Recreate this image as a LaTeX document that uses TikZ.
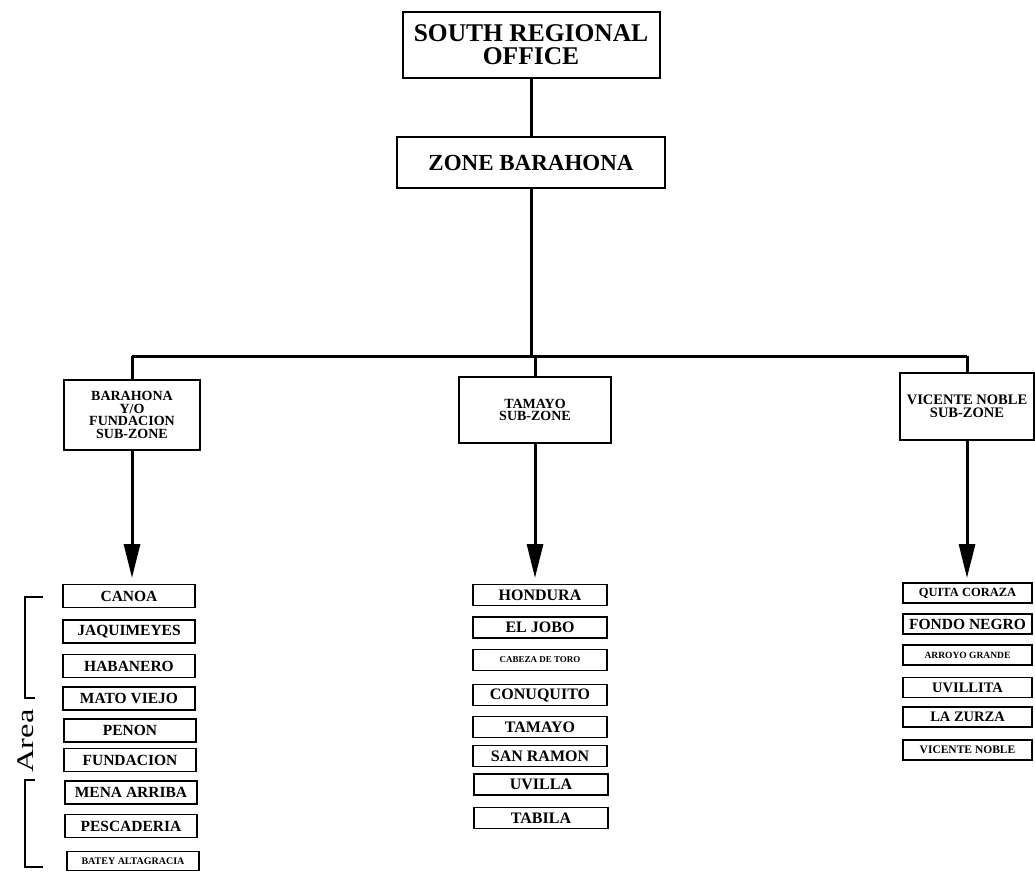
\documentclass[tikz,border=0pt]{standalone}
\usepackage{fontspec}
\setmainfont{Liberation Serif}
\usetikzlibrary{arrows.meta}
\newcommand{\fsz}[2]{\fontsize{#1}{#2}\selectfont\bfseries}
\begin{document}
\begin{tikzpicture}[x=1pt,y=-1pt,
  box/.style={draw, line width=2pt, inner sep=0pt, align=center},
  conn/.style={line width=3pt},
  arr/.style={line width=3pt, -{Triangle[length=34pt,width=16pt]}},
  lcol/.style={box, line width=1.8pt, minimum width=132pt, minimum height=23pt},
  mcol/.style={box, line width=1.8pt, minimum width=134pt, minimum height=21pt},
  rcol/.style={box, line width=1.8pt, minimum width=129pt, minimum height=20pt},
  brk/.style={line width=2.5pt}
]
\useasboundingbox[fill=white] (0,0) rectangle (1035,872);

% top levels
\node[box, minimum width=257pt, minimum height=66pt, font=\fsz{25.5}{23}] (top) at (531,45) {SOUTH REGIONAL\\OFFICE};
\node[box, minimum width=268pt, minimum height=51pt, font=\fsz{23}{23}] (zone) at (531,162.5) {ZONE BARAHONA};

% sub-zones
\node[box, minimum width=136pt, minimum height=70pt, font=\fsz{14}{12.5}] (bara) at (132,415) {BARAHONA\\Y/O\\FUNDACION\\SUB-ZONE};
\node[box, minimum width=152pt, minimum height=66pt, font=\fsz{14}{12.5}] (tama) at (535,410) {TAMAYO\\SUB-ZONE};
\node[box, minimum width=134pt, minimum height=67pt, font=\fsz{14.5}{12.5}] (vice) at (967,406.5) {VICENTE NOBLE\\SUB-ZONE};

% connectors
\coordinate (bus) at (531,356);
\coordinate (baratip) at (132,578);
\coordinate (tamatip) at (535,578);
\coordinate (vicetip) at (967,578);
\draw[conn] (zone.south) -- (zone.south |- bus);
\draw[conn] (bara.north |- bus) -- (vice.north |- bus);
\draw[conn] (bara.north |- bus) -- (bara.north);
\draw[conn] (tama.north |- bus) -- (tama.north);
\draw[conn] (vice.north |- bus) -- (vice.north);
\draw[conn] (top.south) -- (zone.north);
\draw[arr] (bara.south) -- (baratip);
\draw[arr] (tama.south) -- (tamatip);
\draw[arr] (vice.south) -- (vicetip);

% left column
\node[lcol, font=\fsz{15.5}{15.5}] (l1) at (129,596) {CANOA};
\node[lcol, font=\fsz{15.5}{15.5}] (l2) at (129,631.5) {JAQUIMEYES};
\node[lcol, font=\fsz{15.5}{15.5}] (l3) at (129,666) {HABANERO};
\node[lcol, font=\fsz{15.5}{15.5}] (l4) at (129,698.5) {MATO VIEJO};
\node[lcol, font=\fsz{15.5}{15.5}] (l5) at (130,730.5) {PENON};
\node[lcol, font=\fsz{15.5}{15.5}] (l6) at (130,760) {FUNDACION};
\node[lcol, font=\fsz{15.5}{15.5}] (l7) at (131,792.5) {MENA ARRIBA};
\node[lcol, font=\fsz{15.5}{15.5}] (l8) at (131,826) {PESCADERIA};
\node[lcol, minimum height=19pt, font=\fsz{10}{10}] (l9) at (133,861) {BATEY ALTAGRACIA};

% middle column
\node[mcol, font=\fsz{16}{16}] (m1) at (540,595) {HONDURA};
\node[mcol, font=\fsz{16}{16}] (m2) at (540,627.5) {EL JOBO};
\node[mcol, font=\fsz{9}{9}] (m3) at (540,660) {CABEZA DE TORO};
\node[mcol, font=\fsz{16}{16}] (m4) at (540,695) {CONUQUITO};
\node[mcol, font=\fsz{16}{16}] (m5) at (540,727) {TAMAYO};
\node[mcol, font=\fsz{16}{16}] (m6) at (540,756) {SAN RAMON};
\node[mcol, font=\fsz{16}{16}] (m7) at (541,784.5) {UVILLA};
\node[mcol, font=\fsz{16}{16}] (m8) at (541,818) {TABILA};

% right column
\node[rcol, font=\fsz{12.5}{12.5}] (r1) at (967.5,593) {QUITA CORAZA};
\node[rcol, font=\fsz{15.5}{15.5}] (r2) at (967.5,624) {FONDO NEGRO};
\node[rcol, font=\fsz{9.5}{9.5}] (r3) at (967.5,655) {ARROYO GRANDE};
\node[rcol, font=\fsz{14.5}{14.5}] (r4) at (967.5,687.5) {UVILLITA};
\node[rcol, font=\fsz{14.5}{14.5}] (r5) at (967.5,717) {LA ZURZA};
\node[rcol, font=\fsz{11.5}{11.5}] (r6) at (967.5,750) {VICENTE NOBLE};

% Area bracket
\coordinate (bt) at (43,597);
\coordinate (bb) at (43,867);
\draw[brk] (bt) -- (25,597) -- (25,698) -- (35,698);
\draw[brk] (35,780) -- (25,780) -- (25,867) -- (bb);
\node[rotate=90, inner sep=0pt, font=\fontsize{24}{24}\selectfont] (area) at (25.5,741) {\scalebox{1.35}[1]{Area}};
\end{tikzpicture}
\end{document}
